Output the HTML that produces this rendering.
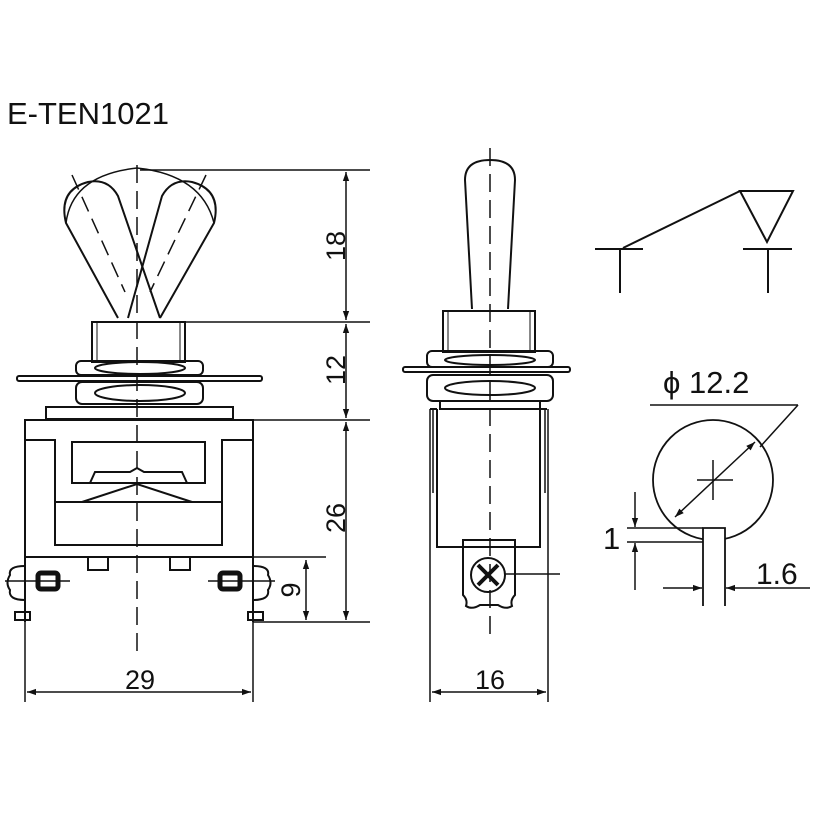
<!DOCTYPE html>
<html><head><meta charset="utf-8"><style>
html,body{margin:0;padding:0;background:#fff}
svg{display:block}
text{font-family:"Liberation Sans",Arial,sans-serif;fill:#111}
</style></head><body>
<svg width="822" height="822" viewBox="0 0 822 822" xmlns="http://www.w3.org/2000/svg">
<defs>
<marker id="a" viewBox="0 0 10 10" refX="10" refY="5" markerWidth="9" markerHeight="9" orient="auto-start-reverse" markerUnits="userSpaceOnUse"><path d="M0,1.5 L10,5 L0,8.5Z" fill="#111"/></marker>
</defs>
<text x="7" y="124" font-size="31">E-TEN1021</text>
<g fill="none" stroke="#111" stroke-width="2">
<!-- LEFT VIEW -->
<path d="M118,318 L66,223 Q58,190 88,182 Q108,178 118,196 L160,318"/>
<path d="M160,318 L214,223 Q222,190 192,182 Q172,178 162,196 L128,318"/>
<path d="M66,223 Q72,175 137,168 Q202,175 214,223" stroke-width="1.5"/>
<g stroke-width="1.5" stroke-dasharray="16 8"><line x1="72" y1="175" x2="125" y2="292"/><line x1="206" y1="175" x2="150" y2="292"/></g>
<rect x="92" y="322" width="93" height="40"/>
<line x1="97" y1="322" x2="97" y2="362" stroke-width="1"/><line x1="180" y1="322" x2="180" y2="362" stroke-width="1"/>
<rect x="76" y="361" width="127" height="14" rx="5"/>
<rect x="17" y="376" width="245" height="5" rx="2"/>
<rect x="76" y="382" width="127" height="22" rx="6"/>
<ellipse cx="140" cy="368" rx="45" ry="6"/><ellipse cx="140" cy="393" rx="45" ry="8"/>
<rect x="46" y="407" width="187" height="12"/>
<rect x="25" y="420" width="228" height="137"/>
<path d="M25,440 H55 V545 H222 V440 H253"/>
<rect x="72" y="442" width="133" height="41"/>
<path d="M90,483 L95,472 H130 L137,468 L144,472 H182 L187,483"/>
<path d="M55,502 H222"/><path d="M82,502 L137,484 L192,502"/>
<rect x="88" y="557" width="20" height="13"/><rect x="170" y="557" width="20" height="13"/>
<path d="M25,557 V622 M15,612 H30 V620 H15Z"/>
<path d="M25,566 Q8,566 10,575 Q5,583 10,590 Q8,600 25,600"/>
<rect x="38" y="573" width="20" height="16" rx="3" stroke-width="5"/>
<line x1="5" y1="581" x2="70" y2="581" stroke-width="1.5"/>
<path d="M253,557 V622 M248,612 H263 V620 H248Z"/>
<path d="M253,566 Q270,566 268,575 Q273,583 268,590 Q270,600 253,600"/>
<rect x="220" y="573" width="20" height="16" rx="3" stroke-width="5"/>
<line x1="208" y1="581" x2="275" y2="581" stroke-width="1.5"/>
<line x1="137" y1="165" x2="137" y2="655" stroke-width="1.5" stroke-dasharray="18 8"/>
<g stroke-width="1.5">
<line x1="140" y1="170" x2="370" y2="170"/><line x1="185" y1="322" x2="370" y2="322"/>
<line x1="253" y1="420" x2="370" y2="420"/><line x1="253" y1="622" x2="370" y2="622"/>
<line x1="253" y1="557" x2="326" y2="557"/>
<line x1="346" y1="172" x2="346" y2="320" marker-start="url(#a)" marker-end="url(#a)"/>
<line x1="346" y1="324" x2="346" y2="418" marker-start="url(#a)" marker-end="url(#a)"/>
<line x1="346" y1="422" x2="346" y2="620" marker-start="url(#a)" marker-end="url(#a)"/>
<line x1="306" y1="560" x2="306" y2="620" marker-start="url(#a)" marker-end="url(#a)"/>
<line x1="25" y1="622" x2="25" y2="702"/><line x1="253" y1="622" x2="253" y2="702"/>
<line x1="27" y1="692" x2="251" y2="692" marker-start="url(#a)" marker-end="url(#a)"/>
</g>
<!-- MIDDLE VIEW -->
<path d="M472,309 L465,180 Q465,160 490,160 Q515,160 515,180 L508,309"/>
<rect x="443" y="311" width="92" height="41"/>
<line x1="448" y1="311" x2="448" y2="352" stroke-width="1"/><line x1="530" y1="311" x2="530" y2="352" stroke-width="1"/>
<rect x="427" y="351" width="126" height="16" rx="5"/>
<rect x="403" y="367" width="167" height="5" rx="2"/>
<rect x="427" y="375" width="126" height="26" rx="6"/>
<ellipse cx="490" cy="360" rx="45" ry="5"/><ellipse cx="490" cy="388" rx="45" ry="7"/>
<rect x="440" y="401" width="100" height="8"/>
<path d="M437,409 V547 H540 V409"/>
<path d="M430,409 H437 M540,409 H547"/>
<line x1="430" y1="409" x2="430" y2="702" stroke-width="1.5"/><line x1="548" y1="409" x2="548" y2="702" stroke-width="1.5"/>
<line x1="433" y1="409" x2="433" y2="493" stroke-width="1.5"/><line x1="545" y1="409" x2="545" y2="493" stroke-width="1.5"/>
<path d="M463,547 V540 H515 V547 V595 Q510,600 512,606 Q506,610 498,605 H480 Q472,610 466,606 Q468,600 463,595Z"/>
<circle cx="488" cy="575" r="17"/>
<g stroke-width="4"><line x1="478" y1="565" x2="498" y2="585"/><line x1="498" y1="565" x2="478" y2="585"/></g>
<line x1="505" y1="574" x2="560" y2="574" stroke-width="1.5"/>
<line x1="490" y1="148" x2="490" y2="640" stroke-width="1.5" stroke-dasharray="18 8"/>
<line x1="432" y1="692" x2="546" y2="692" stroke-width="1.5" marker-start="url(#a)" marker-end="url(#a)"/>
<!-- SCHEMATIC -->
<line x1="595" y1="249" x2="643" y2="249"/><line x1="620" y1="249" x2="620" y2="293"/>
<line x1="623" y1="248" x2="740" y2="191"/>
<path d="M740,191 H793 L767,242Z"/>
<line x1="743" y1="249" x2="792" y2="249"/><line x1="768" y1="249" x2="768" y2="293"/>
<circle cx="713" cy="480" r="60" stroke-width="1.8"/>
<rect x="703" y="528" width="22" height="80" fill="#fff" stroke="none"/>
<path d="M703,606 V528 H725 V606" stroke-width="1.8"/>
<g stroke-width="1.5">
<line x1="650" y1="405" x2="798" y2="405"/><line x1="798" y1="405" x2="760" y2="447"/>
<line x1="675" y1="517" x2="755" y2="442" marker-start="url(#a)" marker-end="url(#a)"/>
<line x1="697" y1="480" x2="733" y2="480"/><line x1="713" y1="460" x2="713" y2="500"/>
<line x1="627" y1="528" x2="703" y2="528"/><line x1="627" y1="542" x2="703" y2="542"/>
<line x1="635" y1="492" x2="635" y2="527" marker-end="url(#a)"/>
<line x1="635" y1="590" x2="635" y2="543" marker-end="url(#a)"/>
<line x1="663" y1="588" x2="702" y2="588" marker-end="url(#a)"/>
<line x1="810" y1="588" x2="726" y2="588" marker-end="url(#a)"/>
</g>
</g>
<text font-size="27" transform="translate(345,246) rotate(-90)" text-anchor="middle">18</text>
<text font-size="27" transform="translate(345,370) rotate(-90)" text-anchor="middle">12</text>
<text font-size="27" transform="translate(345,518) rotate(-90)" text-anchor="middle">26</text>
<text font-size="27" transform="translate(300,590) rotate(-90)" text-anchor="middle">9</text>
<text font-size="27" x="140" y="689" text-anchor="middle">29</text>
<text font-size="27" x="490" y="689" text-anchor="middle">16</text>
<text font-size="31" x="663" y="393">ϕ 12.2</text>
<text font-size="31" x="603" y="549">1</text>
<text font-size="30" x="756" y="584">1.6</text>
</svg>
</body></html>
